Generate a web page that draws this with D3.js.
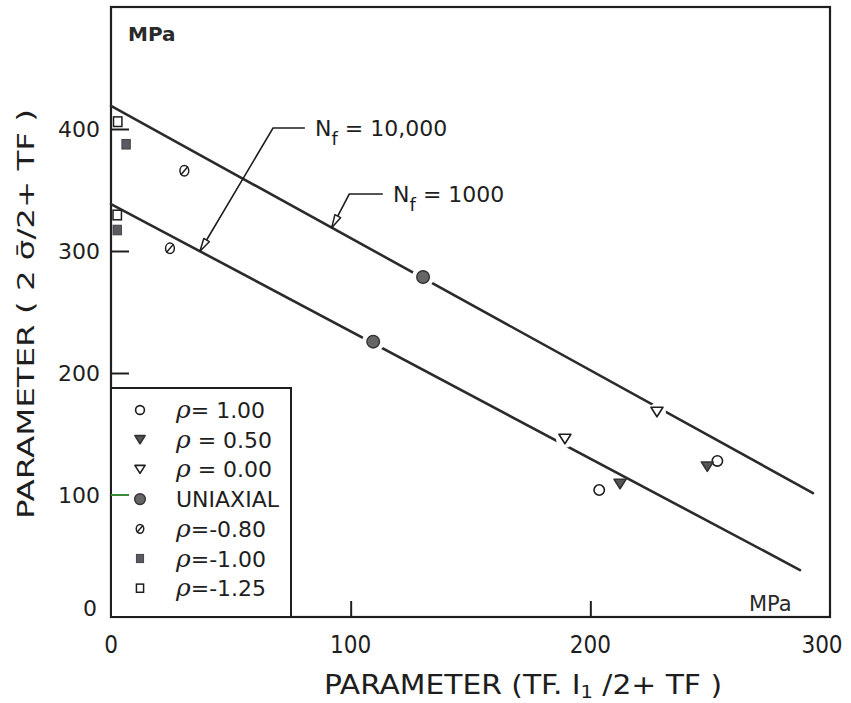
<!DOCTYPE html>
<html><head><meta charset="utf-8">
<script src="https://cdn.jsdelivr.net/npm/d3@7"></script>
<style>
html,body{margin:0;padding:0;background:#fff;}
svg{display:block;}
</style>
</head><body>
<svg id="chart" width="851" height="703"></svg>
<script>
// ---------- data ----------
const xTicks = [100, 200];
const xTickLabels = ["0", "100", "200", "300"];
const yTicks = [100, 200, 300, 400];
const yTickLabels = ["0", "100", "200", "300", "400"];

const seriesNames = ["ρ= 1.00", "ρ = 0.50", "ρ = 0.00", "UNIAXIAL", "ρ=-0.80", "ρ=-1.00", "ρ=-1.25"];
const seriesKeys  = ["r100", "r050", "r000", "uni", "r080", "r100n", "r125"];

const r100_x  = [203.7, 253.0];   const r100_y  = [104.1, 127.9];
const r050_x  = [212.4, 248.8];   const r050_y  = [109.0, 123.2];
const r000_x  = [189.4, 227.8];   const r000_y  = [145.9, 168.0];
const uni_x   = [109.4, 130.2];   const uni_y   = [225.7, 278.7];
const r080_x  = [24.6, 30.6];     const r080_y  = [302.2, 365.8];
const r100n_x = [2.6, 6.3];       const r100n_y = [317.2, 387.5];
const r125_x  = [2.6, 2.8];       const r125_y  = [329.5, 406.0];

const lineNames = ["N_f = 1000", "N_f = 10,000"];
const line1000_x  = [0, 292.9];   const line1000_y  = [418.9, 101.6];
const line10000_x = [0, 287.5];   const line10000_y = [338.5, 38.5];

// ---------- setup ----------
const svg = d3.select("#chart");
const x = d3.scaleLinear().domain([0, 300]).range([111, 830]);
const y = d3.scaleLinear().domain([0, 500]).range([617, 7]);
const ink = "#1e1e1e";
const fontMain = "'DejaVu Sans', 'Liberation Sans', sans-serif";
const fontNarrow = "'Liberation Sans Narrow', 'DejaVu Sans Condensed', 'Liberation Sans', sans-serif";

const seriesX = {r100:r100_x, r050:r050_x, r000:r000_x, uni:uni_x, r080:r080_x, r100n:r100n_x, r125:r125_x};
const seriesY = {r100:r100_y, r050:r050_y, r000:r000_y, uni:uni_y, r080:r080_y, r100n:r100n_y, r125:r125_y};

function drawMarker(g, key, cx, cy, s) {
  s = s || 1;
  const grey = "#555";
  if (key === "r100") {
    g.append("circle").attr("cx", cx).attr("cy", cy).attr("r", 5.2*s)
      .attr("fill", "#fff").attr("stroke", ink).attr("stroke-width", 1.6);
  } else if (key === "r050" || key === "r000") {
    const w = 6*s, h = 9.5*s;
    const p = `M${cx-w},${cy-h/2}L${cx+w},${cy-h/2}L${cx},${cy+h/2}Z`;
    g.append("path").attr("d", p)
      .attr("fill", key === "r050" ? grey : "#fff")
      .attr("stroke", key === "r050" ? "#333" : ink).attr("stroke-width", 1.6)
      .attr("stroke-linejoin", "round");
  } else if (key === "uni") {
    g.append("circle").attr("cx", cx).attr("cy", cy).attr("r", 6.3*s)
      .attr("fill", "#666").attr("stroke", "#333").attr("stroke-width", 1.4);
  } else if (key === "r080") {
    g.append("ellipse").attr("cx", cx).attr("cy", cy).attr("rx", 4.4*s).attr("ry", 5.2*s)
      .attr("fill", "#fff").attr("stroke", ink).attr("stroke-width", 1.5);
    g.append("line").attr("x1", cx-3.6*s).attr("y1", cy+4.2*s).attr("x2", cx+3.6*s).attr("y2", cy-4.2*s)
      .attr("stroke", ink).attr("stroke-width", 1.5);
  } else if (key === "r100n") {
    g.append("rect").attr("x", cx-4.2*s).attr("y", cy-4.8*s).attr("width", 8.4*s).attr("height", 9.6*s)
      .attr("fill", "#5a5a62").attr("stroke", "#444").attr("stroke-width", 1);
  } else if (key === "r125") {
    g.append("rect").attr("x", cx-4.2*s).attr("y", cy-4.8*s).attr("width", 8.4*s).attr("height", 9.6*s)
      .attr("fill", "#fff").attr("stroke", ink).attr("stroke-width", 1.5);
  }
}

// ---------- frame ----------
svg.append("rect").attr("x", x(0)).attr("y", y(500)).attr("width", x(300)-x(0)).attr("height", y(0)-y(500))
  .attr("fill", "none").attr("stroke", ink).attr("stroke-width", 2.2);

const axB = d3.axisBottom(x).tickValues(xTicks).tickSize(-16).tickFormat("");
svg.append("g").attr("transform", `translate(0,${y(0)})`).call(axB)
  .call(g => { g.select(".domain").remove(); g.selectAll("line").attr("stroke", ink).attr("stroke-width", 2); });
const axL = d3.axisLeft(y).tickValues(yTicks.filter(v => v !== 100)).tickSize(-18).tickFormat("");
svg.append("g").attr("transform", `translate(${x(0)},0)`).call(axL)
  .call(g => { g.select(".domain").remove(); g.selectAll("line").attr("stroke", ink).attr("stroke-width", 2); });

svg.append("g").selectAll("text").data(xTickLabels).join("text")
  .attr("x", d => x(+d) - (d === "300" ? 8 : 0)).attr("y", 653)
  .attr("text-anchor", "middle").attr("font-family", fontNarrow).attr("font-size", 24).attr("fill", ink)
  .text(d => d);
svg.append("g").selectAll("text").data(yTickLabels).join("text")
  .attr("x", d => d === "0" ? 97 : 100).attr("y", d => (d === "0" ? 608 : y(+d)) + 8)
  .attr("text-anchor", "end").attr("font-family", fontMain).attr("font-size", 22).attr("fill", ink)
  .text(d => d);

// axis titles
const xt = svg.append("text").attr("x", 523).attr("y", 694).attr("text-anchor", "middle")
  .attr("font-family", fontNarrow).attr("font-size", 26).attr("fill", ink)
  .attr("textLength", 398).attr("lengthAdjust", "spacingAndGlyphs");
xt.append("tspan").text("PARAMETER  (TF. I");
xt.append("tspan").attr("dy", 4).attr("font-size", 17).text("1");
xt.append("tspan").attr("dy", -4).text(" /2+ TF )");

svg.append("text").attr("transform", "translate(34,314) rotate(-90)").attr("text-anchor", "middle")
  .attr("font-family", fontMain).attr("font-size", 23).attr("fill", ink)
  .attr("textLength", 410).attr("lengthAdjust", "spacingAndGlyphs")
  .text("PARAMETER ( 2 σ\u0304/2+ TF )");

svg.append("text").attr("x", 128).attr("y", 41).attr("font-family", fontMain).attr("font-size", 20)
  .attr("font-weight", "bold").attr("fill", "#2a2a2a").text("MPa");
svg.append("text").attr("x", 749).attr("y", 611).attr("font-family", fontMain).attr("font-size", 21)
  .attr("fill", "#2a2a2a").text("MPa");

// ---------- lines ----------
const lineGen = d3.line().x(d => x(d[0])).y(d => y(d[1]));
[[line1000_x, line1000_y], [line10000_x, line10000_y]].forEach(([lx, ly]) => {
  svg.append("path").datum(d3.zip(lx, ly)).attr("d", lineGen)
    .attr("fill", "none").attr("stroke", "#2b2b2b").attr("stroke-width", 2.6).attr("stroke-linecap", "round");
});

const gapR = {uni: 11, r000: 9};
Object.keys(gapR).forEach(k => {
  svg.append("g").selectAll("circle").data(d3.zip(seriesX[k], seriesY[k])).join("circle")
    .attr("cx", d => x(d[0])).attr("cy", d => y(d[1])).attr("r", gapR[k]).attr("fill", "#fff");
});

const pts = svg.append("g");
seriesKeys.forEach(k => {
  d3.zip(seriesX[k], seriesY[k]).forEach(d => drawMarker(pts, k, x(d[0]), y(d[1]), 1));
});

// ---------- annotations ----------
function leader(tip, knee, end) {
  const p = d3.path();
  p.moveTo(x(end[0]), y(end[1])); p.lineTo(x(knee[0]), y(knee[1])); p.lineTo(x(tip[0]), y(tip[1]));
  svg.append("path").attr("d", p.toString()).attr("fill", "none").attr("stroke", ink).attr("stroke-width", 1.6);
  const tx = x(tip[0]), ty = y(tip[1]);
  const ang = Math.atan2(y(knee[1]) - ty, x(knee[0]) - tx);
  const L = 13, W = 3.2;
  const bx = tx + L*Math.cos(ang), by = ty + L*Math.sin(ang);
  const px = -Math.sin(ang)*W, py = Math.cos(ang)*W;
  svg.append("path").attr("d", `M${tx},${ty}L${bx+px},${by+py}L${bx-px},${by-py}Z`)
    .attr("fill", "#fff").attr("stroke", ink).attr("stroke-width", 1.5).attr("stroke-linejoin", "round");
}
leader([37.1, 299.8], [67.6, 400.8], [80.9, 400.8]);
leader([92.1, 319.1], [99.4, 346.7], [113.4, 346.7]);

function nfLabel(px, py, rest) {
  const t = svg.append("text").attr("x", x(px)).attr("y", y(py) + 8)
    .attr("font-family", fontMain).attr("font-size", 22).attr("fill", ink);
  t.append("tspan").text("N");
  t.append("tspan").attr("dy", 9).attr("font-size", 18).text("f");
  t.append("tspan").attr("dy", -9).text(rest);
}
nfLabel(85.1, 400.8, "  =  10,000");
nfLabel(117.7, 346.7, "  = 1000");

// ---------- legend ----------
svg.append("rect").attr("x", x(0)).attr("y", 388).attr("width", 291 - x(0)).attr("height", y(0) - 388)
  .attr("fill", "#fff").attr("stroke", ink).attr("stroke-width", 2);
// the 100 tick shows through the legend box in the scan
svg.append("line").attr("x1", x(0)).attr("x2", x(0) + 18).attr("y1", y(100)).attr("y2", y(100))
  .attr("stroke", "#3a8a3a").attr("stroke-width", 2);
seriesKeys.forEach((k, i) => {
  const cy = 410 + i * 29.7;
  drawMarker(svg, k, 140, cy, 0.85);
  const name = seriesNames[i];
  const t = svg.append("text").attr("x", 176).attr("y", cy + 8)
    .attr("font-family", fontMain).attr("font-size", 22).attr("fill", ink);
  if (name.startsWith("ρ")) {
    t.append("tspan").attr("font-style", "italic").attr("font-size", 25).attr("font-family", "'DejaVu Serif', serif").text("ρ");
    t.append("tspan").text(name.slice(1));
  } else {
    t.text(name);
  }
});
</script>
</body></html>
